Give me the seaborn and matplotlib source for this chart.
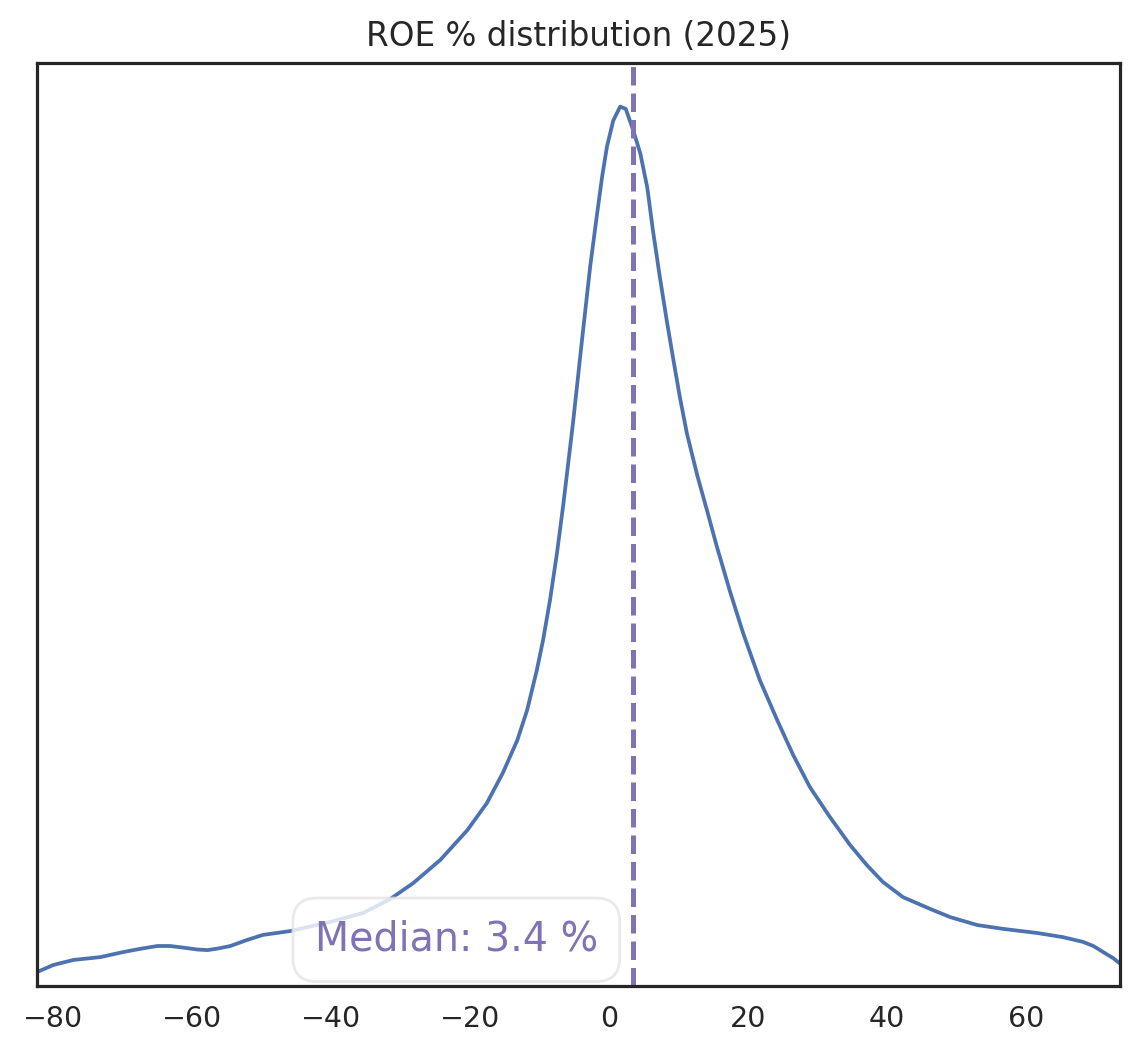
import numpy as np
import pandas as pd
import seaborn as sns
from matplotlib import pyplot as plt
from matplotlib.transforms import blended_transform_factory

# ROE % grid and smoothed density
roe = [-82.3, -80.0, -77.1, -73.2, -69.9, -67.5, -65.0, -63.2, -61.3, -59.3,
       -57.8, -56.3, -54.5, -52.1, -49.8, -45.9, -40.1, -35.4, -31.5, -28.2,
       -24.3, -20.4, -17.6, -15.3, -13.2, -11.8, -10.4, -9.5, -8.5, -7.5,
       -6.6, -5.2, -3.9, -2.7, -1.7, -1.0, -0.3, 0.6, 1.6, 2.4,
       3.5, 4.5, 5.5, 6.3, 7.3, 8.3, 9.2, 10.2, 11.2, 12.7,
       14.1, 15.5, 17.4, 19.3, 21.7, 24.2, 26.5, 28.9, 31.8, 34.7,
       37.1, 39.4, 42.3, 46.2, 49.1, 53.0, 56.7, 61.6, 65.3, 68.2,
       69.7, 71.1, 72.6, 73.6]
density = [0.00044, 0.00066, 0.00082, 0.00091, 0.00107, 0.00117, 0.00126, 0.00126, 0.00121, 0.00115,
           0.00113, 0.00118, 0.00126, 0.00145, 0.00161, 0.00173, 0.00202, 0.00230, 0.00274, 0.00324,
           0.00397, 0.00491, 0.00576, 0.00671, 0.00775, 0.00869, 0.00995, 0.01090, 0.01216, 0.01364,
           0.01515, 0.01773, 0.02035, 0.02271, 0.02438, 0.02551, 0.02646, 0.02728, 0.02772, 0.02765,
           0.02696, 0.02624, 0.02517, 0.02384, 0.02236, 0.02098, 0.01981, 0.01855, 0.01742, 0.01609,
           0.01499, 0.01386, 0.01244, 0.01112, 0.00964, 0.00838, 0.00728, 0.00627, 0.00532, 0.00444,
           0.00381, 0.00328, 0.00280, 0.00243, 0.00217, 0.00192, 0.00180, 0.00167, 0.00154, 0.00139,
           0.00126, 0.00107, 0.00087, 0.00069]
median_roe = 3.4
x_range = (-82.4, 73.6)
year = 2025

df = pd.DataFrame({'roe': roe, 'density': density})

sns.set_theme(style='white')
plt.rcParams['axes.edgecolor'] = '#262626'
plt.rcParams['axes.linewidth'] = 2.3

fig, ax = plt.subplots(figsize=(11.41, 10.62), dpi=100)
fig.subplots_adjust(left=0.032, right=0.982, top=0.941, bottom=0.0716)

blue, purple = sns.color_palette('deep')[0], sns.color_palette('deep')[4]

sns.lineplot(data=df, x='roe', y='density', color=blue, linewidth=2.7, ax=ax)
ax.axvline(median_roe, color=purple, linestyle='--', linewidth=3.6)

# label box sits just left of the median line, near the bottom
trans = blended_transform_factory(ax.transData, ax.transAxes)
ax.text(median_roe - 5, 0.05, f'Median: {median_roe} %', transform=trans,
        ha='right', va='center', fontsize=28.5, color=purple,
        bbox=dict(boxstyle='round,pad=0.55,rounding_size=0.6', facecolor='white',
                  edgecolor='#e4e4e4', linewidth=2, alpha=0.8))

ax.set_xlim(*x_range)
ax.set_ylim(0, max(density) * 1.05)
ax.set_yticks([])
ax.set_xticks([-80, -60, -40, -20, 0, 20, 40, 60])
ax.set_xlabel('')
ax.set_ylabel('')
ax.tick_params(axis='x', labelsize=20.5, length=0, pad=14, colors='#262626')
ax.set_title(f'ROE % distribution ({year})', fontsize=23.5, color='#262626', pad=12)

plt.savefig('out.png', dpi=100)
